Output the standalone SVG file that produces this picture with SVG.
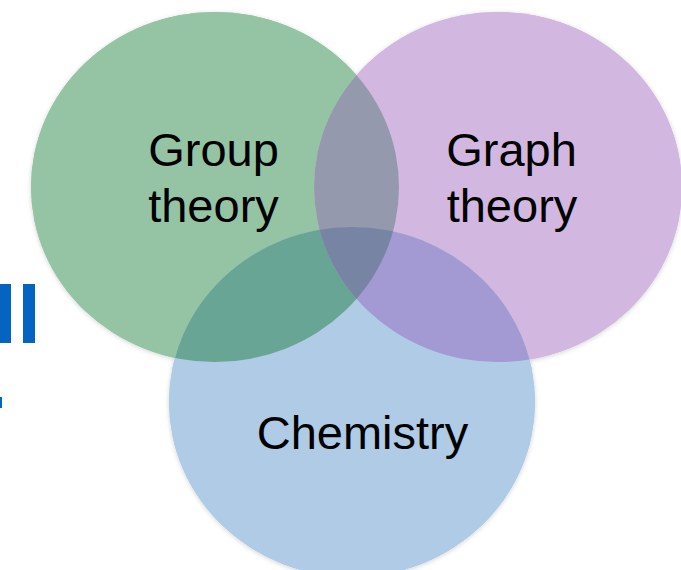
<svg xmlns="http://www.w3.org/2000/svg" width="681" height="570" viewBox="0 0 681 570">
  <style>
    .lbl { font-family: "Liberation Sans", Arial, sans-serif; font-size: 47px; fill: #000; text-anchor: middle; }
    .frag { fill: #0563C1; }
  </style>
  <defs>
    <ellipse id="eG" cx="215" cy="187" rx="184" ry="175"/>
    <ellipse id="eP" cx="498" cy="187" rx="184" ry="175"/>
    <ellipse id="eB" cx="352" cy="402" rx="183" ry="175"/>
    <clipPath id="cG"><use href="#eG"/></clipPath>
    <clipPath id="cP"><use href="#eP"/></clipPath>
    <filter id="sh" x="-10%" y="-10%" width="120%" height="120%">
      <feGaussianBlur in="SourceAlpha" stdDeviation="2.5"/>
      <feOffset dx="0" dy="1"/>
      <feComponentTransfer><feFuncA type="linear" slope="0.18"/></feComponentTransfer>
      <feMerge><feMergeNode/><feMergeNode in="SourceGraphic"/></feMerge>
    </filter>
  </defs>
  <rect width="681" height="570" fill="#ffffff"/>
  <g id="fragments">
    <rect class="frag" x="0" y="284" width="11" height="59"/>
    <rect class="frag" x="23" y="284" width="12" height="59"/>
    <rect class="frag" x="0" y="397" width="2" height="11"/>
  </g>
  <g id="shadows" filter="url(#sh)">
    <use href="#eG" fill="#95C4A4"/>
    <use href="#eP" fill="#D2B8E0"/>
    <use href="#eB" fill="#AFCBE6"/>
  </g>
  <g id="group-theory">
    <use href="#eG" fill="#95C4A4"/>
  </g>
  <g id="graph-theory">
    <use href="#eP" fill="#D2B8E0"/>
  </g>
  <g id="chemistry">
    <use href="#eB" fill="#AFCBE6"/>
  </g>
  <g id="overlaps">
    <use href="#eP" fill="#9599AD" clip-path="url(#cG)"/>
    <use href="#eB" fill="#68A595" clip-path="url(#cG)"/>
    <use href="#eB" fill="#A39AD3" clip-path="url(#cP)"/>
    <g clip-path="url(#cG)">
      <use href="#eB" fill="#7884A3" clip-path="url(#cP)"/>
    </g>
  </g>
  <g id="labels">
    <text class="lbl" x="213.5" y="166">Group</text>
    <text class="lbl" x="213.5" y="222">theory</text>
    <text class="lbl" x="511.5" y="166">Graph</text>
    <text class="lbl" x="512" y="222">theory</text>
    <text class="lbl" x="362.5" y="449">Chemistry</text>
  </g>
  <g id="connectors"/>
</svg>
